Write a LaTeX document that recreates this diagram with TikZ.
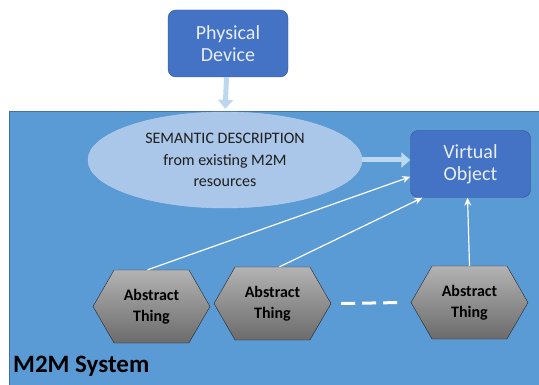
\documentclass[tikz,border=0pt]{standalone}
\usepackage{fontspec}
\setmainfont{Carlito}
\usetikzlibrary{positioning,shapes.geometric,shapes.symbols,arrows.meta}

\definecolor{sysblue}{RGB}{91,155,213}
\definecolor{sysedge}{RGB}{65,113,156}
\definecolor{boxblue}{RGB}{68,114,196}
\definecolor{boxedge}{RGB}{47,82,143}
\definecolor{semblue}{RGB}{170,198,232}
\definecolor{arrowblue}{RGB}{189,215,238}
\definecolor{boxtext}{RGB}{232,238,248}

\tikzset{
	devbox/.style={draw=boxedge, fill=boxblue, rounded corners=8pt, text=boxtext, align=center,
		minimum width=120pt, minimum height=67pt, font=\fontsize{20}{22}\selectfont},
	thing/.style={signal, signal to=east and west, signal pointer angle=120, draw=black!85,
		top color=black!30, bottom color=black!58, minimum width=117pt, minimum height=73pt,
		align=center, inner sep=0pt, font=\bfseries\fontsize{16}{21}\selectfont},
	fatarrow/.style={draw=arrowblue, line width=5pt, -{Triangle[length=9pt,width=15pt]}},
	thinarrow/.style={draw=white, line width=1.2pt, -{Stealth[length=8pt,width=7pt]}}
}

\begin{document}
\begin{tikzpicture}[x=1pt,y=-1pt]
	\useasboundingbox (0,0) rectangle (539,385);
	\node[draw=sysedge, fill=sysblue, anchor=north west, minimum width=531pt, minimum height=275pt, inner sep=0pt] (sys) at (9,111) {};
	\node[anchor=west, inner sep=0pt, font=\bfseries\fontsize{25}{28}\selectfont] (syslabel) at (13,366) {M2M System};

	\node[devbox] (phys) at (228,43.5) {Physical\\Device};
	\node[ellipse, fill=semblue, draw=semblue!80!white, minimum width=274pt, minimum height=96pt, inner sep=0pt,
		align=center, text=black!88, font=\fontsize{16}{21.5}\selectfont] (sem) at (225,160) {SEMANTIC DESCRIPTION\\from existing M2M\\resources};
	\node[devbox] (vo) at (470.5,164) {Virtual\\Object};

	\node[thing] (t1) at (151.5,306.5) {Abstract\\Thing};
	\node[thing] (t2) at (272.5,303.5) {Abstract\\Thing};
	\node[thing] (t3) at (469.5,302.5) {Abstract\\Thing};

	\draw[fatarrow, shorten >=3pt] (phys) -- (sem.north);
	\draw[fatarrow] (sem.east) -- (sem.east -| vo.west);
	\draw[thinarrow] ([xshift=-4pt]t1.north) -- (vo.192);
	\draw[thinarrow] ([xshift=7pt]t2.north) -- (vo.215);
	\draw[thinarrow] (t3.north) -- (vo.265);
	\draw[white, line width=3pt, dash pattern=on 14pt off 7pt] ([xshift=10pt]t2.east) -- ([xshift=-8pt]t3.west);
\end{tikzpicture}
\end{document}
